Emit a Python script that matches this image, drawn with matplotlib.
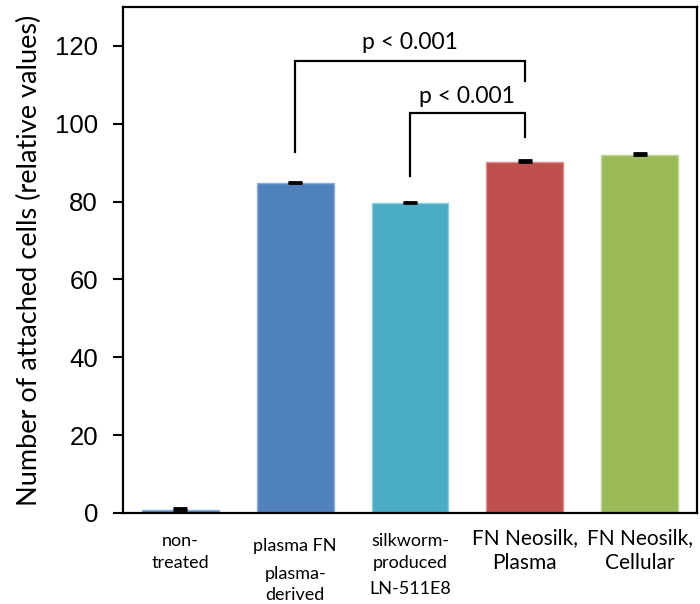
import numpy as np
import matplotlib.pyplot as plt

# values
labels = ['non-\ntreated', 'plasma FN', 'silkworm-\nproduced', 'FN Neosilk,\nPlasma', 'FN Neosilk,\nCellular']
sublabels = ['', 'plasma-\nderived', 'LN-511E8', '', '']
label_big = [False, False, False, True, True]
values = [0.7, 84.8, 79.7, 90.2, 91.9]
errors = [0.6, 0.3, 0.2, 0.6, 0.6]
colors = ['#4F81BD', '#4F81BD', '#4BACC6', '#C0504D', '#9BBB59']
edges = ['#8EAEDA', '#8EAEDA', '#8CCFE0', '#E08B89', '#BFD68F']

# significance brackets: (left bar, right bar, left foot, top, right foot, text x, text y)
brackets = [(1, 3, 92.8, 116.0, 111.0, 2.0, 121.0),
            (2, 3, 86.7, 102.8, 96.7, 2.5, 107.0)]
ptext = 'p < 0.001'

font = 'Lato'

fig = plt.figure(figsize=(7, 6.04), dpi=100)
ax = fig.add_axes([0.1757, 0.1507, 0.82, 0.8377])

x = np.arange(len(values))
ax.bar(x, values, width=0.67, color=colors, edgecolor=edges, linewidth=1.0, zorder=2)
ax.errorbar(x, values, yerr=[np.zeros(len(errors)), errors], fmt='none',
            ecolor='black', elinewidth=1.5, capsize=5, capthick=2, zorder=3)

for b in brackets:
    x1, x2, y1, ytop, y2, tx, ty = b
    ax.plot([x1, x1, x2, x2], [y1, ytop, ytop, y2], color='black', lw=1.6,
            solid_joinstyle='miter', zorder=3)
    ax.text(tx, ty, ptext, ha='center', va='center', fontsize=16.5, family=font)

ax.set_xlim(-0.5, 4.5)
ax.set_ylim(0, 130)
ax.set_yticks(np.arange(0, 121, 20))
ax.tick_params(axis='y', direction='out', length=7, width=1.5, labelsize=18.5, pad=11)
for t in ax.get_yticklabels():
    t.set_family('Liberation Sans')
ax.set_xticks([])
for s in ax.spines.values():
    s.set_linewidth(1.6)
    s.set_color('black')

ax.set_ylabel('Number of attached cells (relative values)', fontsize=19.5,
              family=font, labelpad=9)

trans = ax.get_xaxis_transform()
for i in range(len(labels)):
    if label_big[i]:
        ax.text(x[i], -0.074, labels[i], transform=trans, ha='center', va='center',
                fontsize=15, family=font, linespacing=1.35)
    else:
        ypos = -0.065 if '\n' not in labels[i] else -0.077
        ax.text(x[i], ypos, labels[i], transform=trans, ha='center', va='center',
                fontsize=13, family=font, linespacing=1.4)
    if sublabels[i]:
        ypos = -0.141 if '\n' in sublabels[i] else -0.150
        ax.text(x[i], ypos, sublabels[i], transform=trans, ha='center', va='center',
                fontsize=13, family=font, linespacing=1.4)

fig.savefig('out.png', dpi=100)
